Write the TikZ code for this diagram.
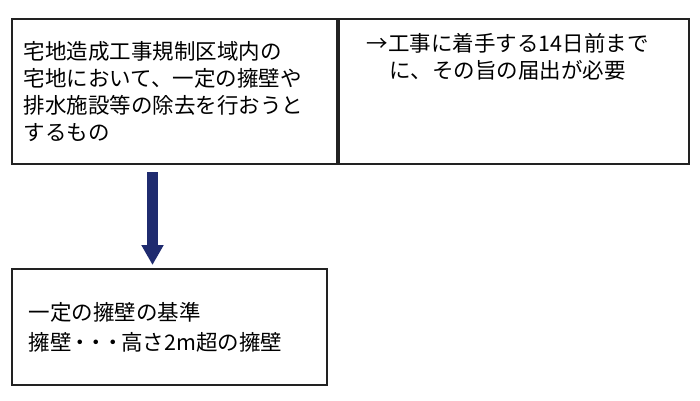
\documentclass[tikz,border=0pt]{standalone}
\usepackage{fontspec}
\setmainfont{Noto Sans CJK JP}
\usetikzlibrary{positioning}
\usetikzlibrary{arrows.meta}
\definecolor{arrnavy}{HTML}{1F2B6F}
\definecolor{boxline}{HTML}{222222}
\newcommand{\tightdot}{\kern-2.5pt・\kern-2.5pt}

\tikzset{
	cell/.style={draw=boxline, line width=1.8pt, anchor=north west, inner sep=0pt,
		font=\fontsize{21.5pt}{27pt}\selectfont},
	bigarrow/.style={draw=arrnavy, line width=11pt, -{Triangle[width=21pt,length=20pt]}}
}

\begin{document}
\begin{tikzpicture}[x=1pt,y=-1pt]
	%% the page is 700 by 400, one unit per pixel
	\useasboundingbox (0,0) rectangle (700,400);
	%% top row: the condition on the left, the notice on the right
	\node[cell, minimum width=325pt, minimum height=145pt, text width=301pt, align=left] (cond) at (11,18)
	{宅地造成工事規制区域内の\\宅地において、一定の擁壁や\\排水施設等の除去を行おうと\\するもの};
	\node[cell, minimum width=350pt, minimum height=145pt,
		label={[font=\fontsize{21.5pt}{27pt}\selectfont, align=center, anchor=north, yshift=-12pt, xshift=-6pt]north:{→工事に着手する14日前まで\\に、その旨の届出が必要}}] (notice) at (cond.north east) {};
	%% bottom box with the standard
	\node[cell, minimum width=315pt, minimum height=116pt, text width=281pt, align=left] (std) at (11,268)
	{一定の擁壁の基準\\[3pt]擁壁\tightdot\tightdot\tightdot 高さ2m超の擁壁};
	%% the arrow starts a little under the top row
	\coordinate (arrtop) at (152.5,172);
	\draw[bigarrow, shorten >=3pt] (arrtop) -- (arrtop |- std.north);
\end{tikzpicture}
\end{document}
